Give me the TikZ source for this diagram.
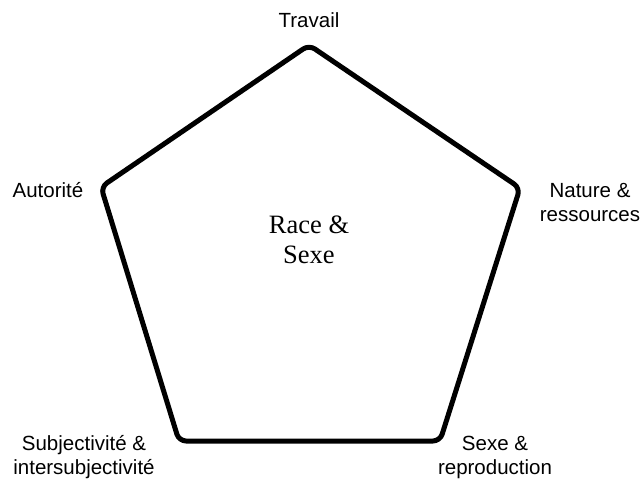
\documentclass[tikz,border=0pt]{standalone}
\usepackage{fontspec}
\setmainfont{Liberation Serif}
\newfontfamily\polefont{Liberation Sans}
\usetikzlibrary{positioning}
\tikzset{
  pole/.style={align=center,inner sep=0pt,
               font=\polefont\fontsize{20.5}{24}\selectfont},
  core/.style={align=center,inner sep=0pt,
               font=\fontsize{26.5}{30}\selectfont},
  frame/.style={draw=black,line width=5pt,rounded corners=7pt,line join=round}
}
\begin{document}
\begin{tikzpicture}[x=1pt,y=-1pt]
\useasboundingbox (0,0) rectangle (642,481);
% corners of the pentagon
\coordinate (top) at (309,45);
\coordinate (right) at (520,188);
\coordinate (botright) at (440,441);
\coordinate (botleft) at (179,441);
\coordinate (left) at (101,187);
\draw[frame] (top) -- (right) -- (botright) -- (botleft) -- (left) -- cycle;
% labels
\node[pole] (travail) at (309,20) {Travail};
\node[pole] (autorite) at (48,190) {Autorit\'e};
\node[pole] (nature) at (590,203) {Nature \&\\ressources};
\node[pole] (sexe) at (495,457) {Sexe \&\\reproduction};
\node[pole] (subj) at (84,457) {Subjectivit\'e \&\\intersubjectivit\'e};
\node[core] (race) at (309,240) {Race \&\\Sexe};
\end{tikzpicture}
\end{document}
